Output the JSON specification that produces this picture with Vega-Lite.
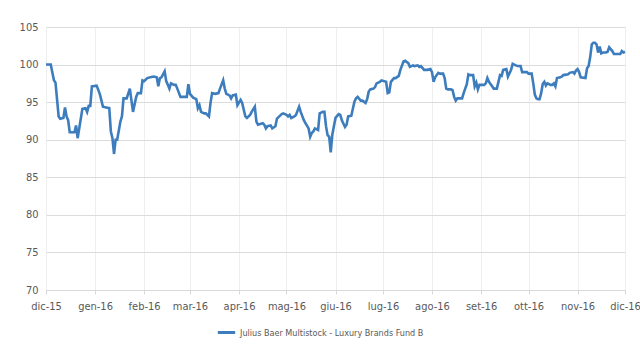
{
  "$schema": "https://vega.github.io/schema/vega-lite/v6.json",
  "width": 579,
  "height": 263,
  "autosize": {"type": "none"},
  "padding": {"left": 46, "top": 27, "right": 15, "bottom": 56},
  "background": "white",
  "config": {
    "view": {"stroke": null},
    "font": "DejaVu Sans Condensed, Liberation Sans Narrow, sans-serif"
  },
  "data": {
    "values": [
      {"date": "2015-12-01", "value": 100.0},
      {"date": "2015-12-04", "value": 100.0},
      {"date": "2015-12-06", "value": 97.9},
      {"date": "2015-12-07", "value": 97.6},
      {"date": "2015-12-09", "value": 93.1},
      {"date": "2015-12-10", "value": 92.8},
      {"date": "2015-12-12", "value": 92.9},
      {"date": "2015-12-13", "value": 94.3},
      {"date": "2015-12-14", "value": 93.1},
      {"date": "2015-12-15", "value": 92.6},
      {"date": "2015-12-16", "value": 91.0},
      {"date": "2015-12-19", "value": 91.0},
      {"date": "2015-12-20", "value": 91.9},
      {"date": "2015-12-21", "value": 90.2},
      {"date": "2015-12-22", "value": 91.5},
      {"date": "2015-12-24", "value": 94.1},
      {"date": "2015-12-26", "value": 94.2},
      {"date": "2015-12-27", "value": 93.7},
      {"date": "2015-12-28", "value": 94.5},
      {"date": "2015-12-29", "value": 94.5},
      {"date": "2015-12-30", "value": 97.1},
      {"date": "2016-01-02", "value": 97.2},
      {"date": "2016-01-04", "value": 96.1},
      {"date": "2016-01-06", "value": 94.4},
      {"date": "2016-01-08", "value": 94.3},
      {"date": "2016-01-10", "value": 94.2},
      {"date": "2016-01-11", "value": 91.1},
      {"date": "2016-01-12", "value": 90.2},
      {"date": "2016-01-13", "value": 88.1},
      {"date": "2016-01-14", "value": 90.0},
      {"date": "2016-01-15", "value": 90.0},
      {"date": "2016-01-17", "value": 92.4},
      {"date": "2016-01-18", "value": 93.1},
      {"date": "2016-01-19", "value": 95.5},
      {"date": "2016-01-21", "value": 95.5},
      {"date": "2016-01-23", "value": 96.8},
      {"date": "2016-01-25", "value": 93.7},
      {"date": "2016-01-27", "value": 95.7},
      {"date": "2016-01-28", "value": 96.2},
      {"date": "2016-01-30", "value": 96.2},
      {"date": "2016-01-31", "value": 97.9},
      {"date": "2016-02-01", "value": 97.8},
      {"date": "2016-02-03", "value": 98.2},
      {"date": "2016-02-05", "value": 98.3},
      {"date": "2016-02-07", "value": 98.4},
      {"date": "2016-02-09", "value": 98.3},
      {"date": "2016-02-10", "value": 97.1},
      {"date": "2016-02-11", "value": 98.2},
      {"date": "2016-02-12", "value": 98.3},
      {"date": "2016-02-14", "value": 99.1},
      {"date": "2016-02-15", "value": 97.8},
      {"date": "2016-02-16", "value": 97.3},
      {"date": "2016-02-17", "value": 96.8},
      {"date": "2016-02-18", "value": 97.5},
      {"date": "2016-02-20", "value": 97.3},
      {"date": "2016-02-21", "value": 97.3},
      {"date": "2016-02-22", "value": 96.8},
      {"date": "2016-02-24", "value": 95.7},
      {"date": "2016-02-26", "value": 95.7},
      {"date": "2016-02-28", "value": 95.7},
      {"date": "2016-02-29", "value": 97.4},
      {"date": "2016-03-01", "value": 96.1},
      {"date": "2016-03-03", "value": 95.6},
      {"date": "2016-03-05", "value": 95.4},
      {"date": "2016-03-06", "value": 94.2},
      {"date": "2016-03-07", "value": 94.6},
      {"date": "2016-03-08", "value": 93.7},
      {"date": "2016-03-10", "value": 93.5},
      {"date": "2016-03-11", "value": 93.5},
      {"date": "2016-03-13", "value": 93.1},
      {"date": "2016-03-14", "value": 94.9},
      {"date": "2016-03-15", "value": 96.2},
      {"date": "2016-03-17", "value": 96.1},
      {"date": "2016-03-19", "value": 96.2},
      {"date": "2016-03-20", "value": 96.8},
      {"date": "2016-03-22", "value": 97.9},
      {"date": "2016-03-23", "value": 96.8},
      {"date": "2016-03-24", "value": 96.1},
      {"date": "2016-03-26", "value": 95.9},
      {"date": "2016-03-27", "value": 95.5},
      {"date": "2016-03-28", "value": 95.9},
      {"date": "2016-03-30", "value": 96.0},
      {"date": "2016-03-31", "value": 94.6},
      {"date": "2016-04-02", "value": 95.3},
      {"date": "2016-04-03", "value": 94.9},
      {"date": "2016-04-05", "value": 93.1},
      {"date": "2016-04-06", "value": 92.9},
      {"date": "2016-04-08", "value": 93.3},
      {"date": "2016-04-09", "value": 93.7},
      {"date": "2016-04-11", "value": 94.4},
      {"date": "2016-04-12", "value": 92.4},
      {"date": "2016-04-13", "value": 92.0},
      {"date": "2016-04-16", "value": 92.2},
      {"date": "2016-04-17", "value": 92.0},
      {"date": "2016-04-18", "value": 91.5},
      {"date": "2016-04-19", "value": 91.8},
      {"date": "2016-04-21", "value": 91.9},
      {"date": "2016-04-22", "value": 91.5},
      {"date": "2016-04-24", "value": 91.8},
      {"date": "2016-04-25", "value": 92.8},
      {"date": "2016-04-26", "value": 93.0},
      {"date": "2016-04-28", "value": 93.4},
      {"date": "2016-04-29", "value": 93.5},
      {"date": "2016-05-01", "value": 93.3},
      {"date": "2016-05-02", "value": 93.1},
      {"date": "2016-05-03", "value": 93.3},
      {"date": "2016-05-04", "value": 92.9},
      {"date": "2016-05-06", "value": 93.1},
      {"date": "2016-05-07", "value": 93.3},
      {"date": "2016-05-09", "value": 94.4},
      {"date": "2016-05-10", "value": 93.7},
      {"date": "2016-05-12", "value": 92.6},
      {"date": "2016-05-13", "value": 92.2},
      {"date": "2016-05-15", "value": 91.5},
      {"date": "2016-05-16", "value": 90.4},
      {"date": "2016-05-17", "value": 90.9},
      {"date": "2016-05-18", "value": 91.1},
      {"date": "2016-05-19", "value": 91.5},
      {"date": "2016-05-21", "value": 91.3},
      {"date": "2016-05-22", "value": 93.5},
      {"date": "2016-05-24", "value": 93.7},
      {"date": "2016-05-25", "value": 93.7},
      {"date": "2016-05-26", "value": 91.8},
      {"date": "2016-05-27", "value": 90.6},
      {"date": "2016-05-28", "value": 90.4},
      {"date": "2016-05-29", "value": 88.3},
      {"date": "2016-05-30", "value": 90.7},
      {"date": "2016-06-01", "value": 92.9},
      {"date": "2016-06-03", "value": 93.4},
      {"date": "2016-06-04", "value": 93.3},
      {"date": "2016-06-05", "value": 92.6},
      {"date": "2016-06-07", "value": 91.7},
      {"date": "2016-06-08", "value": 92.0},
      {"date": "2016-06-09", "value": 93.1},
      {"date": "2016-06-11", "value": 93.2},
      {"date": "2016-06-13", "value": 95.1},
      {"date": "2016-06-14", "value": 95.5},
      {"date": "2016-06-15", "value": 95.7},
      {"date": "2016-06-17", "value": 95.2},
      {"date": "2016-06-18", "value": 95.2},
      {"date": "2016-06-20", "value": 94.9},
      {"date": "2016-06-21", "value": 95.4},
      {"date": "2016-06-22", "value": 96.4},
      {"date": "2016-06-23", "value": 96.7},
      {"date": "2016-06-25", "value": 96.8},
      {"date": "2016-06-26", "value": 97.0},
      {"date": "2016-06-27", "value": 97.5},
      {"date": "2016-06-28", "value": 97.6},
      {"date": "2016-06-29", "value": 97.7},
      {"date": "2016-06-30", "value": 97.9},
      {"date": "2016-07-03", "value": 97.7},
      {"date": "2016-07-04", "value": 96.2},
      {"date": "2016-07-05", "value": 96.3},
      {"date": "2016-07-06", "value": 97.7},
      {"date": "2016-07-08", "value": 98.2},
      {"date": "2016-07-09", "value": 98.2},
      {"date": "2016-07-11", "value": 98.5},
      {"date": "2016-07-12", "value": 99.3},
      {"date": "2016-07-14", "value": 100.4},
      {"date": "2016-07-15", "value": 100.5},
      {"date": "2016-07-17", "value": 100.2},
      {"date": "2016-07-18", "value": 99.7},
      {"date": "2016-07-20", "value": 99.9},
      {"date": "2016-07-21", "value": 99.8},
      {"date": "2016-07-23", "value": 99.9},
      {"date": "2016-07-24", "value": 99.7},
      {"date": "2016-07-25", "value": 99.8},
      {"date": "2016-07-27", "value": 99.3},
      {"date": "2016-07-29", "value": 99.3},
      {"date": "2016-07-31", "value": 99.4},
      {"date": "2016-08-01", "value": 99.0},
      {"date": "2016-08-02", "value": 97.7},
      {"date": "2016-08-03", "value": 98.3},
      {"date": "2016-08-05", "value": 98.9},
      {"date": "2016-08-06", "value": 98.8},
      {"date": "2016-08-08", "value": 98.8},
      {"date": "2016-08-09", "value": 98.2},
      {"date": "2016-08-10", "value": 96.8},
      {"date": "2016-08-11", "value": 96.7},
      {"date": "2016-08-13", "value": 96.7},
      {"date": "2016-08-14", "value": 96.6},
      {"date": "2016-08-15", "value": 95.7},
      {"date": "2016-08-16", "value": 95.2},
      {"date": "2016-08-17", "value": 95.5},
      {"date": "2016-08-20", "value": 95.5},
      {"date": "2016-08-21", "value": 96.2},
      {"date": "2016-08-23", "value": 97.4},
      {"date": "2016-08-24", "value": 98.7},
      {"date": "2016-08-25", "value": 98.6},
      {"date": "2016-08-27", "value": 98.6},
      {"date": "2016-08-28", "value": 97.1},
      {"date": "2016-08-29", "value": 97.6},
      {"date": "2016-08-30", "value": 96.7},
      {"date": "2016-08-31", "value": 97.3},
      {"date": "2016-09-02", "value": 97.3},
      {"date": "2016-09-03", "value": 97.3},
      {"date": "2016-09-04", "value": 97.5},
      {"date": "2016-09-05", "value": 98.2},
      {"date": "2016-09-06", "value": 97.7},
      {"date": "2016-09-08", "value": 97.1},
      {"date": "2016-09-09", "value": 96.8},
      {"date": "2016-09-11", "value": 96.8},
      {"date": "2016-09-12", "value": 97.7},
      {"date": "2016-09-13", "value": 98.6},
      {"date": "2016-09-14", "value": 98.5},
      {"date": "2016-09-15", "value": 99.3},
      {"date": "2016-09-17", "value": 99.4},
      {"date": "2016-09-18", "value": 98.4},
      {"date": "2016-09-20", "value": 99.3},
      {"date": "2016-09-21", "value": 100.1},
      {"date": "2016-09-23", "value": 99.9},
      {"date": "2016-09-24", "value": 99.8},
      {"date": "2016-09-26", "value": 99.8},
      {"date": "2016-09-27", "value": 99.0},
      {"date": "2016-09-29", "value": 99.0},
      {"date": "2016-09-30", "value": 99.0},
      {"date": "2016-10-01", "value": 98.8},
      {"date": "2016-10-03", "value": 98.8},
      {"date": "2016-10-04", "value": 97.5},
      {"date": "2016-10-05", "value": 96.0},
      {"date": "2016-10-06", "value": 95.5},
      {"date": "2016-10-07", "value": 95.4},
      {"date": "2016-10-08", "value": 95.4},
      {"date": "2016-10-09", "value": 96.2},
      {"date": "2016-10-10", "value": 97.4},
      {"date": "2016-10-11", "value": 97.7},
      {"date": "2016-10-12", "value": 97.2},
      {"date": "2016-10-13", "value": 97.5},
      {"date": "2016-10-15", "value": 97.3},
      {"date": "2016-10-16", "value": 97.3},
      {"date": "2016-10-17", "value": 97.5},
      {"date": "2016-10-18", "value": 97.1},
      {"date": "2016-10-19", "value": 98.2},
      {"date": "2016-10-21", "value": 98.3},
      {"date": "2016-10-22", "value": 98.4},
      {"date": "2016-10-23", "value": 98.6},
      {"date": "2016-10-26", "value": 98.7},
      {"date": "2016-10-27", "value": 98.9},
      {"date": "2016-10-29", "value": 99.0},
      {"date": "2016-10-30", "value": 98.8},
      {"date": "2016-10-31", "value": 99.2},
      {"date": "2016-11-01", "value": 99.4},
      {"date": "2016-11-02", "value": 99.0},
      {"date": "2016-11-03", "value": 98.3},
      {"date": "2016-11-06", "value": 98.2},
      {"date": "2016-11-07", "value": 99.5},
      {"date": "2016-11-08", "value": 99.8},
      {"date": "2016-11-09", "value": 101.0},
      {"date": "2016-11-10", "value": 102.7},
      {"date": "2016-11-11", "value": 102.9},
      {"date": "2016-11-12", "value": 102.9},
      {"date": "2016-11-13", "value": 102.7},
      {"date": "2016-11-14", "value": 101.6},
      {"date": "2016-11-15", "value": 102.4},
      {"date": "2016-11-16", "value": 101.5},
      {"date": "2016-11-17", "value": 101.6},
      {"date": "2016-11-19", "value": 101.6},
      {"date": "2016-11-20", "value": 101.7},
      {"date": "2016-11-21", "value": 102.3},
      {"date": "2016-11-23", "value": 101.8},
      {"date": "2016-11-24", "value": 101.4},
      {"date": "2016-11-26", "value": 101.4},
      {"date": "2016-11-28", "value": 101.4},
      {"date": "2016-11-29", "value": 101.8},
      {"date": "2016-11-30", "value": 101.6},
      {"date": "2016-12-01", "value": 101.7}
    ]
  },
  "mark": {"type": "line", "strokeWidth": 2.6, "interpolate": "linear"},
  "encoding": {
    "x": {
      "field": "date",
      "type": "temporal",
      "scale": {
        "type": "utc",
        "domain": [
          {"year": 2015, "month": 12, "date": 1, "utc": true},
          {"year": 2016, "month": 12, "date": 1, "utc": true}
        ]
      },
      "axis": {
        "title": null,
        "values": [
          {"year": 2015, "month": 12, "date": 1, "utc": true},
          {"year": 2016, "month": 1, "date": 1, "utc": true},
          {"year": 2016, "month": 2, "date": 1, "utc": true},
          {"year": 2016, "month": 3, "date": 1, "utc": true},
          {"year": 2016, "month": 4, "date": 1, "utc": true},
          {"year": 2016, "month": 5, "date": 1, "utc": true},
          {"year": 2016, "month": 6, "date": 1, "utc": true},
          {"year": 2016, "month": 7, "date": 1, "utc": true},
          {"year": 2016, "month": 8, "date": 1, "utc": true},
          {"year": 2016, "month": 9, "date": 1, "utc": true},
          {"year": 2016, "month": 10, "date": 1, "utc": true},
          {"year": 2016, "month": 11, "date": 1, "utc": true},
          {"year": 2016, "month": 12, "date": 1, "utc": true}
        ],
        "labelExpr": "['gen','feb','mar','apr','mag','giu','lug','ago','set','ott','nov','dic'][utcmonth(datum.value)] + '-' + utcFormat(datum.value, '%y')",
        "labelFontSize": 11,
        "labelColor": "#595959",
        "labelPadding": 6,
        "labelOverlap": false,
        "labelFlush": false,
        "domainColor": "#d9d9d9",
        "tickColor": "#d9d9d9",
        "tickSize": 4,
        "gridColor": "#efefef",
        "grid": true
      }
    },
    "y": {
      "field": "value",
      "type": "quantitative",
      "scale": {"domain": [70, 105], "nice": false, "zero": false},
      "axis": {
        "title": null,
        "values": [70, 75, 80, 85, 90, 95, 100, 105],
        "domain": false,
        "ticks": false,
        "labelFontSize": 11,
        "labelColor": "#595959",
        "labelPadding": 8,
        "gridColor": "#dcdcdc",
        "gridWidth": 1
      }
    },
    "color": {
      "datum": "Julius Baer Multistock - Luxury Brands Fund B",
      "scale": {"range": ["#3d7dbd"]},
      "legend": {
        "title": null,
        "orient": "none",
        "legendX": 170,
        "legendY": 295,
        "symbolType": "stroke",
        "symbolSize": 300,
        "symbolStrokeWidth": 3,
        "labelFontSize": 9,
        "labelLimit": 0,
        "labelColor": "#595959",
        "labelOffset": 3
      }
    }
  }
}
